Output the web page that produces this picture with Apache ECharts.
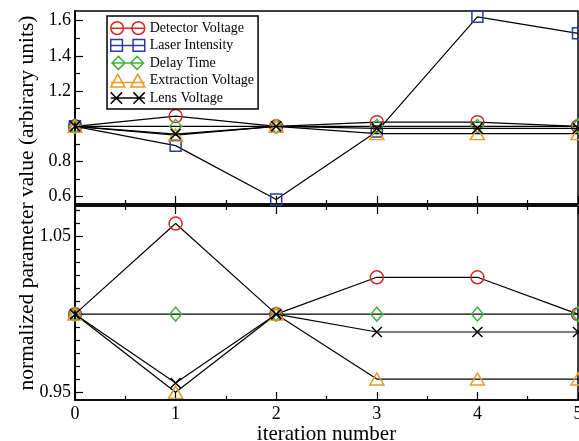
<!DOCTYPE html>
<html>
<head>
<meta charset="utf-8">
<script src="https://cdn.jsdelivr.net/npm/echarts@6/dist/echarts.min.js"></script>
<style>
  html, body { margin: 0; padding: 0; background: #fff; }
  #main { width: 579px; height: 441px; }
</style>
</head>
<body>
<div id="main"></div>
<script>
// values
var iterations = [0, 1, 2, 3, 4, 5];
var detectorVoltage = [1.0, 1.058, 1.0, 1.0236, 1.0236, 1.0];
var laserIntensity = [1.0, 0.89, 0.584, 0.97, 1.622, 1.528];
var delayTime = [1.0, 1.0, 1.0, 1.0, 1.0, 1.0];
var extractionVoltage = [1.0, 0.95, 1.0, 0.9585, 0.9585, 0.9585];
var lensVoltage = [1.0, 0.956, 1.0, 0.9886, 0.9886, 0.9886];

// tick labels
var topLabels = [0.6, 0.8, 1.2, 1.4, 1.6];
var topMajor = [0.6, 0.8, 1.0, 1.2, 1.4, 1.6];
var topMinor = [0.7, 0.9, 1.1, 1.3, 1.5];
var botLabels = [0.95, 1.05];
var botMajor = [0.95, 1.0, 1.05];
var botMinor = [];
for (var k = 1; k < 15; k++) {
    if (k % 6 !== 0) botMinor.push(+(0.95 + k * 0.05 / 6).toFixed(5));
}

var FONT = 'Liberation Serif';

var names = ['Detector Voltage', 'Laser Intensity', 'Delay Time', 'Extraction Voltage', 'Lens Voltage'];
var colors = ['#d42a2a', '#2b3d9c', '#3fb53f', '#e89b28', '#000000'];
var symbols = ['circle', 'rect', 'diamond', 'triangle', 'path://M0,0L10,10M0,10L10,0'];
var sizes = [13, 11, [12, 14], [14, 12], 10];
var legendIcons = [
    'path://M1,7A6,6,0,1,1,13,7A6,6,0,1,1,1,7ZM21,7A6,6,0,1,1,33,7A6,6,0,1,1,21,7ZM1,7L33,7',
    'path://M1,1H12V12H1ZM22,1H33V12H22ZM1,6.5H33',
    'path://M7,0L14,7L7,14L0,7ZM27,0L34,7L27,14L20,7ZM0,7H34',
    'path://M7,0L14,13H0ZM27,0L34,13H20ZM0,8.5H34',
    'path://M2,2L12,12M2,12L12,2M22,2L32,12M22,12L32,2M2,7H32'
];
var seriesData = [detectorVoltage, laserIntensity, delayTime, extractionVoltage, lensVoltage];

function pairs(arr) {
    return arr.map(function (v, i) { return [iterations[i], v]; });
}

var series = [];
// top panel: all five
for (var i = 0; i < 5; i++) {
    series.push({
        name: names[i], type: 'line', xAxisIndex: 0, yAxisIndex: 0,
        data: pairs(seriesData[i]),
        symbol: symbols[i], symbolSize: sizes[i],
        itemStyle: { color: 'transparent', borderColor: colors[i], borderWidth: 1.5 },
        lineStyle: { color: '#000', width: 1.2 },
        z: 2 + i
    });
}
// bottom panel: zoomed, laser intensity is off scale
for (var j = 0; j < 5; j++) {
    if (j === 1) continue;
    series.push({
        name: names[j], type: 'line', xAxisIndex: 1, yAxisIndex: 2,
        data: pairs(seriesData[j]),
        symbol: symbols[j], symbolSize: sizes[j],
        itemStyle: { color: 'transparent', borderColor: colors[j], borderWidth: 1.5 },
        lineStyle: { color: '#000', width: 1.2 },
        z: 2 + j
    });
}

function xAx(grid, pos, labels) {
    return {
        type: 'value', gridIndex: grid, position: pos, min: 0, max: 5, interval: 1,
        axisLine: { show: true, onZero: false, lineStyle: { color: '#000', width: 1.5 } },
        axisTick: { inside: true, length: 8, lineStyle: { color: '#000', width: 1.2 } },
        minorTick: { show: true, splitNumber: 2, length: 4, lineStyle: { color: '#000', width: 1.2 } },
        axisLabel: { show: labels, fontFamily: FONT, fontSize: 18, color: '#000', margin: 5 },
        splitLine: { show: false }
    };
}

function yAx(grid, min, max, ticks, labels, len) {
    return {
        type: 'value', gridIndex: grid, position: 'left', min: min, max: max,
        axisLine: { show: true, onZero: false, lineStyle: { color: '#000', width: 1.5 } },
        axisTick: { inside: true, length: len, customValues: ticks, lineStyle: { color: '#000', width: 1.2 } },
        axisLabel: labels ? { show: true, customValues: labels, fontFamily: FONT, fontSize: 18, color: '#000', margin: 4 } : { show: false },
        splitLine: { show: false }
    };
}

var xTop = xAx(0, 'bottom', false);
var xBot = xAx(1, 'bottom', true);
xBot.name = 'iteration number';
xBot.nameLocation = 'middle';
xBot.nameGap = 16;
xBot.nameTextStyle = { fontFamily: FONT, fontSize: 21, color: '#000' };
var xBotTop = xAx(1, 'top', false);

var option = {
    animation: false,
    backgroundColor: '#fff',
    grid: [
        { left: 75, right: 1, top: 11, height: 193, show: true, borderColor: '#000', borderWidth: 1.5, outerBoundsMode: 'none' },
        { left: 75, right: 1, top: 206, height: 194, show: true, borderColor: '#000', borderWidth: 1.5, outerBoundsMode: 'none' }
    ],
    xAxis: [xTop, xBot, xBotTop],
    yAxis: [
        yAx(0, 0.5585, 1.655, topMajor, topLabels, 8),
        yAx(0, 0.5585, 1.655, topMinor, null, 5),
        yAx(1, 0.9451, 1.0692, botMajor, botLabels, 8),
        yAx(1, 0.9451, 1.0692, botMinor, null, 5)
    ],
    legend: {
        orient: 'vertical', left: 107, top: 16,
        padding: [5, 4, 4, 3], itemGap: 3.2,
        itemWidth: 34, itemHeight: 13,
        backgroundColor: '#fff', borderColor: '#000', borderWidth: 1.5,
        textStyle: { fontFamily: FONT, fontSize: 14, color: '#000' },
        data: names.map(function (n, i) {
            return {
                name: n, icon: legendIcons[i],
                itemStyle: { color: 'transparent', borderColor: colors[i], borderWidth: 1.5 }
            };
        })
    },
    graphic: [{
        type: 'text', x: 27, y: 203, rotation: Math.PI / 2,
        style: {
            text: 'normalized parameter value (arbirary units)',
            font: '21.5px "Liberation Serif"', fill: '#000',
            align: 'center', verticalAlign: 'middle'
        }
    }],
    series: series
};

var myChart = echarts.init(document.getElementById('main'));
myChart.setOption(option);
</script>
</body>
</html>
